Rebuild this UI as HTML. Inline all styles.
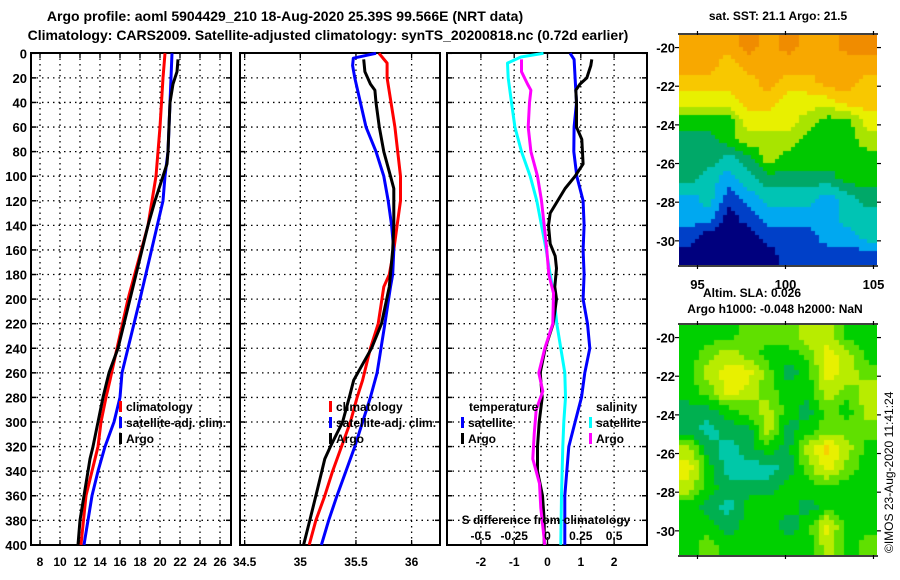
<!DOCTYPE html>
<html><head><meta charset="utf-8">
<style>
html,body{margin:0;padding:0;background:#fff;}
body{width:900px;height:580px;overflow:hidden;position:relative;font-family:"Liberation Sans",sans-serif;}
svg text{font-family:"Liberation Sans",sans-serif;font-weight:bold;fill:#000;}
canvas{position:absolute;}
</style></head>
<body>
<svg id="chart" width="900" height="580" viewBox="0 0 900 580" style="position:absolute;left:0;top:0">
<text x="285" y="21" font-size="14" text-anchor="middle">Argo profile: aoml 5904429_210 18-Aug-2020 25.39S 99.566E (NRT data)</text>
<text x="328" y="40" font-size="14" text-anchor="middle">Climatology: CARS2009. Satellite-adjusted climatology: synTS_20200818.nc (0.72d earlier)</text>
<g id="panels"></g>
<text x="778" y="20" font-size="12" text-anchor="middle">sat. SST: 21.1 Argo: 21.5</text>
<text x="752" y="297" font-size="12" text-anchor="middle">Altim. SLA: 0.026</text>
<text x="775" y="313" font-size="12" text-anchor="middle">Argo h1000: -0.048 h2000: NaN</text>
<text x="0" y="0" font-size="12" transform="translate(893,553) rotate(-90)" style="font-weight:normal">©IMOS 23-Aug-2020 11:41:24</text>
<g id="maps"></g>
</svg>
<canvas id="sst" width="198" height="230" style="left:679px;top:35px"></canvas>
<canvas id="sla" width="198" height="230" style="left:679px;top:325px"></canvas>
<script>
// ---- data ----
const depthTicks=[0,20,40,60,80,100,120,140,160,180,200,220,240,260,280,300,320,340,360,380,400];
const tempTicks=[8,10,12,14,16,18,20,22,24,26];
const salTicks=[34.5,35,35.5,36];
const diffTicks=[-2,-1,0,1,2];
const sdiffTicks=[-0.5,-0.25,0,0.25,0.5];

const climTDepth=[0,20,60,100,120,140,200,240,266,280,300,320,360,400];
const climT=[20.5,20.3,20.0,19.6,19.2,18.8,16.8,15.7,15.0,14.6,14.1,13.8,12.6,12.1];
const satTDepth=[0,40,80,100,120,148,200,260,280,300,320,340,360,380,400];
const satT=[21.2,21.0,20.8,20.5,20.3,19.5,18.0,16.2,16.0,15.4,14.5,13.8,13.2,12.8,12.4];
const argoTDepth=[5,15,25,40,60,80,90,100,120,140,150,200,240,260,280,300,320,330,340,360,380,400];
const argoT=[21.8,21.7,21.3,21.0,20.9,20.8,20.7,20.3,19.5,18.8,18.5,17.0,15.8,14.9,14.3,13.8,13.3,13.0,12.8,12.4,12.0,11.8];

const climSDepth=[0,8,20,60,100,120,140,160,180,190,220,240,266,280,300,320,340,360,380,400];
const climS=[35.707,35.78,35.78,35.85,35.9,35.9,35.87,35.84,35.8,35.75,35.70,35.63,35.56,35.51,35.45,35.37,35.29,35.22,35.14,35.08];
const satSDepth=[0,4,10,20,40,60,80,100,120,140,160,180,190,220,260,280,300,320,340,360,380,400];
const satS=[35.68,35.476,35.47,35.49,35.54,35.59,35.68,35.75,35.79,35.82,35.84,35.83,35.81,35.76,35.69,35.63,35.56,35.49,35.41,35.33,35.255,35.19];
const argoSDepth=[5,15,25,30,40,60,80,100,110,140,160,190,220,240,266,280,300,320,330,360,380,400];
const argoS=[35.57,35.58,35.63,35.67,35.68,35.71,35.75,35.81,35.84,35.84,35.83,35.80,35.73,35.64,35.48,35.44,35.38,35.27,35.22,35.14,35.085,35.03];

const dTsatDepth=[0,5,20,40,60,80,100,120,140,160,180,200,220,240,260,280,300,320,340,360,400];
const dTsat=[0.68,0.8,0.83,0.87,0.8,0.79,0.88,1.07,1.1,1.07,1.1,1.07,1.2,1.27,1.12,1.02,0.83,0.64,0.58,0.52,0.52];
const dTargoDepth=[5,10,20,25,30,40,60,70,90,100,110,130,140,155,165,175,190,200,220,240,260,280,300,320,340,360,380,400];
const dTargo=[1.33,1.3,1.18,0.98,0.85,0.87,0.87,1.03,1.07,0.83,0.53,0.08,0.03,0.08,0.23,0.27,0.22,0.27,0.17,-0.07,-0.22,-0.16,-0.25,-0.3,-0.3,-0.15,-0.1,-0.1];
const dSsatDepth=[0,3,8,20,40,60,80,100,120,140,160,180,195,220,240,260,280,300,320,360,400];
const dSsat=[-0.03,-0.2,-0.3,-0.295,-0.27,-0.245,-0.195,-0.13,-0.08,-0.045,-0.01,0.02,0.045,0.07,0.1,0.13,0.135,0.122,0.115,0.105,0.1];
const dSargoDepth=[5,15,25,30,40,60,80,100,120,140,160,180,195,220,240,260,275,290,310,330,350,370,400];
const dSargo=[-0.195,-0.195,-0.15,-0.125,-0.135,-0.145,-0.125,-0.075,-0.045,-0.025,-0.005,0.01,0.045,0.04,-0.02,-0.065,-0.035,-0.085,-0.1,-0.11,-0.06,-0.05,-0.02];

const sstGrid=[
[9,9,9,10,9,10,9,9,10,10],
[9,9,8,9,9,9,9,9,9,9],
[8,8,8,8,9,8,8,9,9,8],
[7,7,7,8,8,7,7,7,8,8],
[5,5,5,7,7,7,6,5,5,7],
[4,4,5,6,6,6,5,5,5,6],
[4,4,3,4,6,5,5,5,5,5],
[4,3,2,3,4,4,4,4,5,5],
[2,3,1,2,3,3,3,2,3,4],
[2,2,0,1,2,2,2,2,3,3],
[1,0,0,0,1,1,1,2,2,3],
[0,0,0,0,0,1,1,1,1,1]];
const slaGrid=[
[2,2,2,3,3,3,4,4,2,2],
[2,3,4,3,2,2,3,5,4,2],
[2,4,5,5,3,1,2,5,4,3],
[2,3,5,4,3,2,2,4,3,4],
[1,1,2,3,4,2,1,3,2,4],
[1,0,1,1,4,1,2,3,3,3],
[4,1,0,1,2,1,4,6,4,2],
[5,2,0,0,0,1,3,5,3,2],
[4,2,1,1,1,2,2,2,2,2],
[2,1,0,2,2,2,1,2,2,2],
[2,2,1,2,2,1,2,5,2,2],
[2,3,2,2,2,2,2,4,2,3]];
const latTicks=[-20,-22,-24,-26,-28,-30];
const lonTicks=[95,100,105];

// ---- helpers ----
const NS='http://www.w3.org/2000/svg';
const P=document.getElementById('panels');
function mk(tag,attrs,parent){const e=document.createElementNS(NS,tag);for(const k in attrs)e.setAttribute(k,attrs[k]);(parent||P).appendChild(e);return e;}
const Y0=53.3,YS=1.229;
function yD(d){return Y0+d*YS;}
const TOP=53,BOT=545;
const xT=v=>40+(v-8)*10;
const xS=v=>300.3+(v-35)*111.3;
const xdT=v=>547.5+v*33.3;
const xdS=v=>547.5+v*133.2;

function frame(x0,x1,name,vgrid){
  const g=mk('g',{});
  
  
  depthTicks.forEach(d=>{
    if(d>0&&d<400){const l=mk('line',{x1:x0,x2:x1,y1:yD(d),y2:yD(d),stroke:'#000','stroke-width':1.3,'stroke-dasharray':'1.5,4'},g);
      }
    mk('line',{x1:x0,x2:x0+5,y1:yD(d),y2:yD(d),stroke:'#000','stroke-width':1.5},g);
    mk('line',{x1:x1-5,x2:x1,y1:yD(d),y2:yD(d),stroke:'#000','stroke-width':1.5},g);
  });
  vgrid.forEach(x=>{
    const l=mk('line',{x1:x,x2:x,y1:TOP,y2:BOT,stroke:'#000','stroke-width':1.3,'stroke-dasharray':'1.5,4'},g);
    
    mk('line',{x1:x,x2:x,y1:TOP,y2:TOP+5,stroke:'#000','stroke-width':1.3},g);
    mk('line',{x1:x,x2:x,y1:BOT-5,y2:BOT,stroke:'#000','stroke-width':1.3},g);
  });
  const r=mk('rect',{x:x0,y:TOP,width:x1-x0,height:BOT-TOP,fill:'none',stroke:'#000','stroke-width':2},g);
  
  return g;
}
function line(depths,vals,fx,color,name){
  const pts=depths.map((d,i)=>fx(vals[i]).toFixed(1)+','+yD(d).toFixed(1)).join(' ');
  const pl=mk('polyline',{points:pts,fill:'none',stroke:color,'stroke-width':3,'stroke-linejoin':'round'});
  
  
}
function txt(x,y,s,anchor,size,name){
  const t=mk('text',{x:x,y:y,'font-size':size||12,'text-anchor':anchor||'start'});
  t.textContent=s;
  
  
  return t;
}
function legend(x,y,color,label){
  const m=mk('rect',{x:x,y:y-10,width:3,height:11,fill:color});
  
  
  txt(x+7,y,label,'start',12,'legend-entry');
}

// ---- panel 1: temperature ----
frame(31,231,'temperature-panel',tempTicks.map(xT));
depthTicks.forEach(d=>txt(27,yD(d)+5,String(d),'end',13,'y-tick-label'));
tempTicks.forEach(v=>txt(xT(v),566,String(v),'middle',12,'x-tick-label'));
line(climTDepth,climT,xT,'#ff0000','temp-climatology-line');
line(satTDepth,satT,xT,'#0000ff','temp-satellite-line');
line(argoTDepth,argoT,xT,'#000000','temp-argo-line');
legend(119,411,'#ff0000','climatology');
legend(119,427,'#0000ff','satellite-adj. clim.');
legend(119,443,'#000000','Argo');

// ---- panel 2: salinity ----
frame(240,440,'salinity-panel',salTicks.map(xS));
salTicks.forEach(v=>txt(xS(v),566,String(v),'middle',12,'x-tick-label'));
line(climSDepth,climS,xS,'#ff0000','sal-climatology-line');
line(satSDepth,satS,xS,'#0000ff','sal-satellite-line');
line(argoSDepth,argoS,xS,'#000000','sal-argo-line');
legend(329,411,'#ff0000','climatology');
legend(329,427,'#0000ff','satellite-adj. clim.');
legend(329,443,'#000000','Argo');

// ---- panel 3: differences ----
frame(447,647,'difference-panel',diffTicks.map(xdT));
diffTicks.forEach(v=>txt(xdT(v),566,String(v),'middle',12,'x-tick-label'));
line(dTsatDepth,dTsat,xdT,'#0000ff','dT-satellite-line');
line(dSsatDepth,dSsat,xdS,'#00ffff','dS-satellite-line');
line(dTargoDepth,dTargo,xdT,'#000000','dT-argo-line');
line(dSargoDepth,dSargo,xdS,'#ff00ff','dS-argo-line');
txt(469,411,'temperature','start',12,'legend-title-temperature');
txt(596,411,'salinity','start',12,'legend-title-salinity');
legend(461,427,'#0000ff','satellite');
legend(461,443,'#000000','Argo');
legend(589,427,'#00ffff','satellite');
legend(589,443,'#ff00ff','Argo');
txt(546,524,'S difference from climatology','middle',12,'s-diff-axis-title');
sdiffTicks.forEach(v=>txt(xdS(v),540,String(v),'middle',12,'s-diff-tick-label'));

// ---- maps ----
const M=document.getElementById('maps');
const MX0=679,MX1=877,MW=198,MH=230;
const latTop=-19.35,latBot=-31.25,lonL=93.95,lonR=105.2;
function mapFrame(top,name,showLon){
  const g=document.createElementNS(NS,'g');M.appendChild(g);
  
  
  const yL=l=>top+(latTop-l)/(latTop-latBot)*MH;
  const xL=l=>MX0+(l-lonL)/(lonR-lonL)*MW;
  latTicks.forEach(l=>{
    mk('line',{x1:MX0-4,x2:MX0,y1:yL(l),y2:yL(l),stroke:'#000','stroke-width':1.2},g);
    mk('line',{x1:MX1,x2:MX1+4,y1:yL(l),y2:yL(l),stroke:'#000','stroke-width':1.2},g);
    const t=mk('text',{x:MX0-4,y:yL(l)+5,'font-size':13,'text-anchor':'end'},g);
    t.textContent=String(l);
    
    
  });
  lonTicks.forEach(l=>{
    mk('line',{x1:xL(l),x2:xL(l),y1:top-4,y2:top,stroke:'#000','stroke-width':1.2},g);
    mk('line',{x1:xL(l),x2:xL(l),y1:top+MH,y2:top+MH+4,stroke:'#000','stroke-width':1.2},g);
    if(showLon){const t=mk('text',{x:xL(l),y:top+MH+24,'font-size':13,'text-anchor':'middle'},g);
      t.textContent=String(l);
      
      }
  });
  mk('line',{x1:MX0-1,x2:MX1+1,y1:top+MH+1,y2:top+MH+1,stroke:'#000','stroke-width':1.5},g);
  mk('line',{x1:MX0-1,x2:MX1+1,y1:top-1,y2:top-1,stroke:'#000','stroke-width':1.5},g);
}
mapFrame(35,'sst-map-axes',true);
mapFrame(325,'sla-map-axes',false);

const sstColors=['#00007e','#0040c8','#00a8f0','#00c4b4','#00a868','#00c800','#a8e400','#e8f000','#f8c800','#f8a800','#f08c00'];
const slaColors=['#00c8a8','#00b050','#00d000','#60e000','#b8ec00','#e8f000','#f8d000'];
function paint(id,grid,colors,block){
  const c=document.getElementById(id).getContext('2d');
  const R=grid.length,C=grid[0].length;
  for(let py=0;py<MH;py+=block){for(let px=0;px<MW;px+=block){
    const gx=Math.min(Math.max((px+block/2)/MW*C-0.5,0),C-1);
    const gy=Math.min(Math.max((py+block/2)/MH*R-0.5,0),R-1);
    const x0=Math.floor(gx),y0=Math.floor(gy),x1=Math.min(x0+1,C-1),y1=Math.min(y0+1,R-1);
    const fx=gx-x0,fy=gy-y0;
    const v=grid[y0][x0]*(1-fx)*(1-fy)+grid[y0][x1]*fx*(1-fy)+grid[y1][x0]*(1-fx)*fy+grid[y1][x1]*fx*fy;
    c.fillStyle=colors[Math.max(0,Math.min(colors.length-1,Math.round(v)))];
    c.fillRect(px,py,block,block);
  }}
}
paint('sst',sstGrid,sstColors,4);
paint('sla',slaGrid,slaColors,5);
</script>
</body></html>
